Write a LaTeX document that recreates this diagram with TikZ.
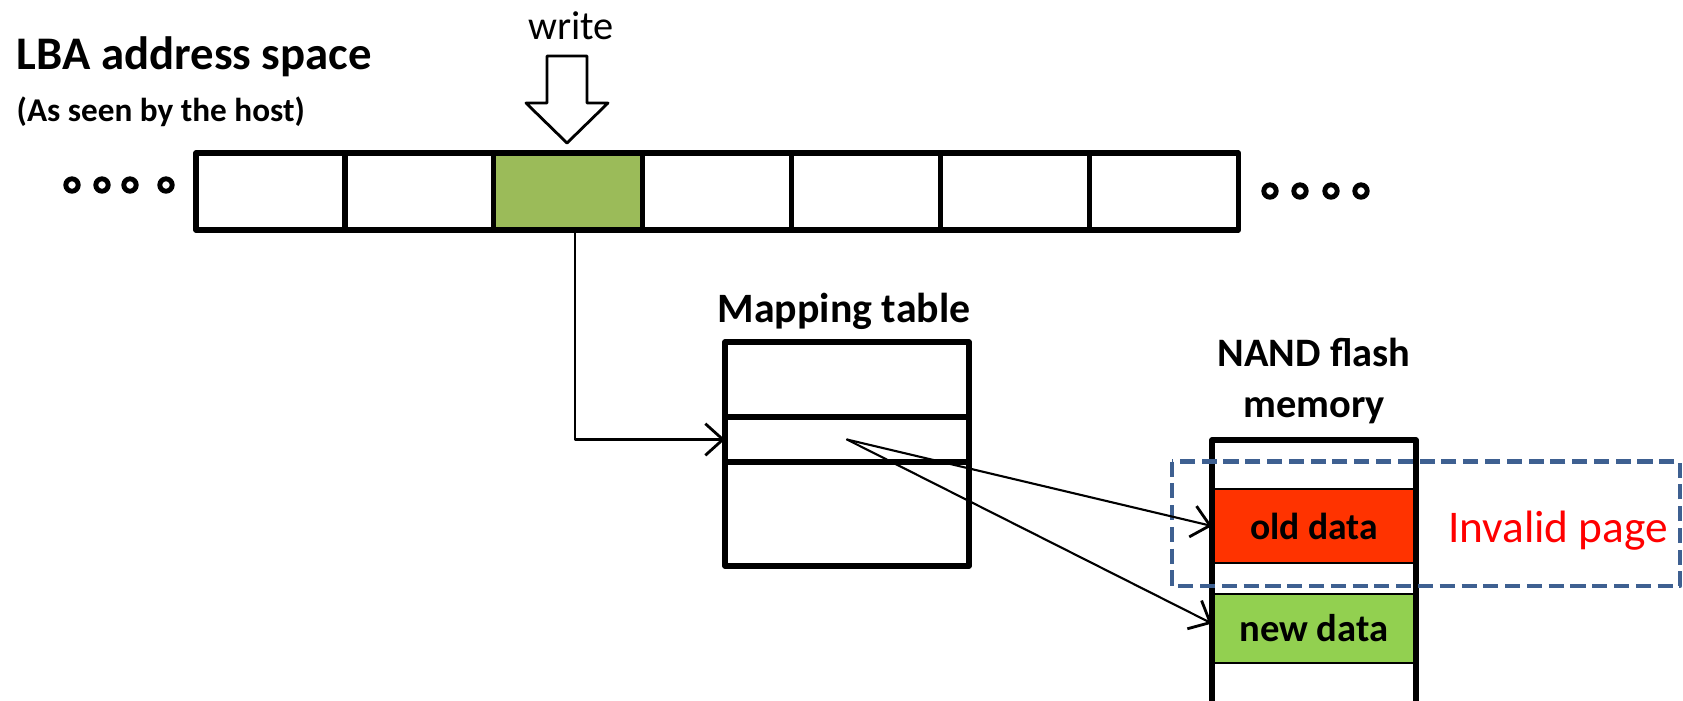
\documentclass[tikz,border=0pt]{standalone}
\usepackage{fontspec}
\setmainfont{Carlito}
\usetikzlibrary{arrows.meta,positioning}
\definecolor{lbagreen}{RGB}{155,187,89}
\definecolor{oldred}{RGB}{255,51,0}
\definecolor{newgreen}{RGB}{146,208,80}
\definecolor{dashblue}{RGB}{62,96,145}
\tikzset{
	lbacell/.style={draw,line width=1.5pt,minimum width=1.489cm,minimum height=0.77cm,inner sep=0pt,outer sep=0pt,anchor=north west},
	maprow/.style={draw,line width=1.5pt,minimum width=2.44cm,inner sep=0pt,outer sep=0pt},
	nandpage/.style={draw,line width=0.6pt,minimum width=2.04cm,inner sep=0pt,outer sep=0pt},
	dot/.style={draw,line width=1.4pt},
	link/.style={line width=0.6pt,-{Straight Barb[length=5pt,width=9pt,line width=0.8pt]}},
}

\begin{document}
\begin{tikzpicture}[line cap=round,line join=round,x=1.0cm,y=1.0cm]
		\useasboundingbox (0,0) rectangle (16.83,-7.00);
		\node[anchor=base west,inner sep=0pt,font=\fontsize{13.3}{16}\selectfont\bfseries] (lbatitle) at (0.16,-0.69) {LBA address space};
		\node[anchor=base west,inner sep=0pt,font=\fontsize{9.45}{11}\selectfont\bfseries] (hostnote) at (0.16,-1.21) {(As seen by the host)};
		\foreach \i/\c in {0/white,1/white,2/lbagreen,3/white,4/white,5/white,6/white}
			\node[lbacell,fill=\c] (lba\i) at ({1.96+1.489*\i},-1.53) {};
		\foreach \x in {0.72,1.02,1.30,1.66}
			\draw[dot] (\x,-1.85) circle (0.062);
		\foreach \x in {12.70,13.00,13.31,13.61}
			\draw[dot] (\x,-1.91) circle (0.062);
		\draw[line width=0.8pt] (5.47,-0.56) -- (5.87,-0.56) -- (5.87,-1.03) -- (6.08,-1.03) -- (5.67,-1.43) -- (5.26,-1.03) -- (5.47,-1.03) -- cycle;
		\node[anchor=base,inner sep=0pt,font=\fontsize{11.5}{14}\selectfont] (write) at (5.71,-0.39) {write};
		\node[maprow,minimum height=0.75cm,anchor=north west] (map1) at (7.25,-3.42) {};
		\node[maprow,minimum height=0.45cm,below=0pt of map1] (map2) {};
		\node[maprow,minimum height=1.04cm,below=0pt of map2] (map3) {};
		\node[anchor=base,inner sep=0pt,font=\fontsize{11.9}{14}\selectfont\bfseries] (maptitle) at (8.44,-3.22) {Mapping table};
		\node[nandpage,minimum height=0.49cm,anchor=north west] (page1) at (12.12,-4.40) {};
		\node[nandpage,minimum height=0.74cm,fill=oldred,below=0pt of page1,font=\fontsize{10.7}{13}\selectfont\bfseries] (old) {old data};
		\node[nandpage,minimum height=0.31cm,below=0pt of old] (page3) {};
		\node[nandpage,minimum height=0.69cm,fill=newgreen,below=0pt of page3,font=\fontsize{11}{13}\selectfont\bfseries] (new) {new data};
		\node[nandpage,minimum height=0.45cm,below=0pt of new] (page5) {};
		\draw[line width=1.5pt] (page5.south west) -- (page1.north west) -- (page1.north east) -- (page5.south east);
		\node[align=center,inner sep=0pt,font=\fontsize{11.5}{14.5}\selectfont\bfseries] (nandtitle) at (13.14,-3.805) {NAND flash\\memory};
		\draw[dashblue,line width=1.2pt,dash pattern=on 4.3pt off 1.9pt,line cap=butt] (11.72,-4.615) rectangle (16.80,-5.86);
		\node[anchor=base,inner sep=0pt,text=red,font=\fontsize{12.9}{16}\selectfont] (invalid) at (15.58,-5.42) {Invalid page};
		\draw[link] ([xshift=0.07cm]lba2.south) |- (map2.west);
		\draw[link] (map2.center) -- (old.west);
		\draw[link] (map2.center) -- ([yshift=0.05cm]new.west);
	\end{tikzpicture}
\end{document}
